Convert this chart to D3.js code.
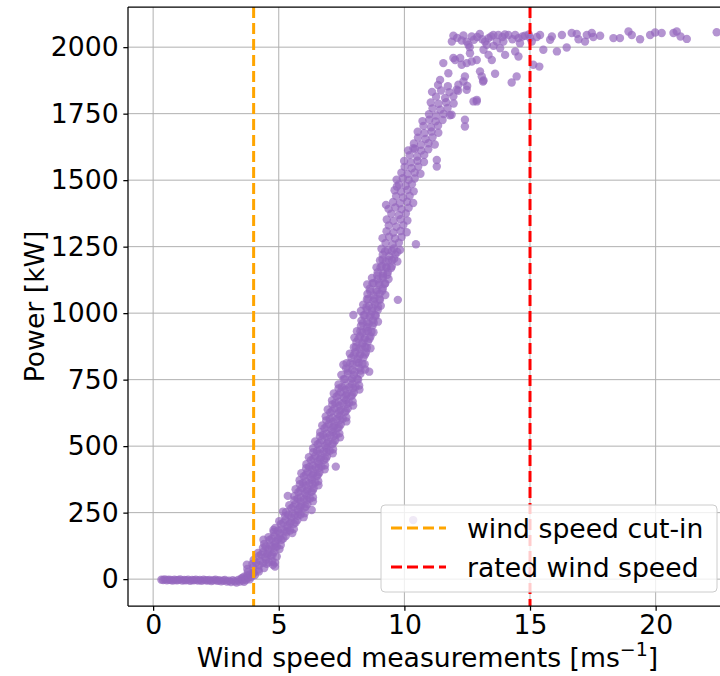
<!DOCTYPE html>
<html>
<head>
<meta charset="utf-8">
<script src="https://cdn.jsdelivr.net/npm/d3@7"></script>
<style>
  body { margin: 0; background: #fff; }
  text { font-family: "DejaVu Sans", sans-serif; }
</style>
</head>
<body>
<div id="chart"></div>
<script>
// wind speed [m/s], power [kW] pairs
const idlePoints = [
  [0.33,-2],[0.4,-3],[0.47,-1],[0.55,-4],[0.62,-2],[0.7,-3],[0.78,-5],[0.85,-2],[0.93,-4],[1.0,-3],
  [1.08,-1],[1.16,-5],[1.24,-3],[1.31,-4],[1.39,-2],[1.47,-6],[1.55,-3],[1.62,-4],[1.7,-2],[1.78,-5],
  [1.86,-3],[1.93,-6],[2.01,-2],[2.09,-4],[2.17,-5],[2.24,-3],[2.32,-7],[2.4,-4],[2.48,-2],[2.55,-6],
  [2.63,-4],[2.71,-8],[2.79,-5],[2.86,-3],[2.94,-9],[3.02,-6],[3.1,-11],[3.17,-4],[3.25,-8],[3.32,-13],
  [3.38,-3],[3.45,-9],[3.5,2],[3.56,-5],[3.62,-10],[3.7,-3],[3.84,-1],
  [3.55,4],[3.62,9],[3.68,2],[3.74,14],[3.8,6],[3.86,18],[3.92,10],[3.98,24],[4.05,15],[3.73,54]
];

const rampPoints = [
  [3.77,27],[4.0,22],[4.21,29],
  [3.75,38],[3.98,44],[4.19,36],[4.42,42],
  [3.95,57],[4.22,52],[4.52,58],[4.77,54],
  [4.0,72],[4.25,68],[4.49,73],[4.74,67],
  [4.21,87],[4.46,83],[4.69,88],
  [4.17,98],[4.39,103],[4.59,97],[4.81,102],
  [4.37,117],[4.59,112],[4.83,118],[5.03,113],
  [4.42,132],[4.64,127],[4.86,133],[5.08,128],
  [4.63,147],[4.88,142],[5.11,148],
  [4.59,158],[4.83,163],[5.04,157],[5.28,162],
  [4.8,177],[5.04,172],[5.31,178],[5.54,173],
  [4.86,192],[5.1,187],[5.35,193],[5.6,188],
  [5.08,207],[5.35,202],[5.6,208],
  [5.02,218],[5.27,223],[5.5,217],[5.74,222],
  [5.25,237],[5.49,232],[5.76,238],[5.99,233],
  [5.29,252],[5.54,247],[5.78,253],[6.03,248],
  [5.5,267],[5.77,262],[6.02,268],
  [5.42,278],[5.67,283],[5.9,277],[6.14,282],
  [5.62,297],[5.86,292],[6.13,298],[6.36,293],
  [5.62,312],[5.87,307],[6.11,313],[6.36,308],
  [5.78,327],[6.05,322],[6.3,328],
  [5.67,338],[5.92,343],[6.15,337],[6.39,342],
  [5.84,357],[6.08,352],[6.35,358],[6.58,353],
  [5.83,372],[6.08,367],[6.32,373],[6.57,368],
  [6.0,387],[6.27,382],[6.52,388],
  [5.9,398],[6.15,403],[6.38,397],[6.62,402],
  [6.09,417],[6.33,412],[6.6,418],[6.83,413],
  [6.1,432],[6.35,427],[6.59,433],[6.84,428],
  [6.28,447],[6.55,442],[6.8,448],
  [6.2,458],[6.45,463],[6.68,457],[6.92,462],
  [6.37,477],[6.63,472],[6.91,478],[7.15,473],
  [6.37,492],[6.64,487],[6.9,493],[7.16,488],
  [6.55,507],[6.85,502],[7.13,508],
  [6.45,518],[6.72,523],[6.97,517],[7.25,522],
  [6.64,537],[6.91,532],[7.2,538],[7.44,533],
  [6.65,552],[6.9,547],[7.15,553],[7.41,548],
  [6.82,567],[7.1,562],[7.35,568],
  [6.73,578],[6.99,583],[7.22,577],[7.47,582],
  [6.89,597],[7.16,592],[7.45,598],[7.69,593],
  [6.87,612],[7.14,607],[7.42,613],[7.69,608],
  [7.05,627],[7.35,622],[7.63,628],
  [6.95,638],[7.22,643],[7.47,637],[7.75,642],
  [7.13,657],[7.41,652],[7.71,658],[7.96,653],
  [7.12,672],[7.39,667],[7.67,673],[7.94,668],
  [7.3,687],[7.6,682],[7.88,688],
  [7.19,698],[7.46,703],[7.71,697],[7.99,702],
  [7.38,717],[7.66,712],[7.96,718],[8.21,713],
  [7.38,732],[7.65,727],[7.93,733],[8.2,728],
  [7.58,752],[7.87,747],[8.13,753],
  [7.49,768],[7.75,773],[7.99,767],[8.25,772],
  [7.68,792],[7.93,787],[8.21,793],[8.44,788],
  [7.7,812],[7.94,807],[8.18,813],[8.42,808],
  [7.89,832],[8.14,827],[8.37,833],
  [7.83,848],[8.05,853],[8.25,847],[8.47,852],
  [7.99,872],[8.21,867],[8.45,873],[8.65,868],
  [8.09,892],[8.33,887],[8.55,893],
  [8.01,908],[8.23,913],[8.43,907],[8.65,912],
  [8.11,932],[8.33,927],[8.55,933],[8.77,928],
  [8.27,952],[8.51,947],[8.73,953],
  [8.29,972],[8.51,967],[8.75,973],[8.95,968],
  [8.38,992],[8.62,987],[8.84,993],
  [8.27,1008],[8.5,1013],[8.71,1007],[8.94,1012],
  [8.36,1032],[8.59,1027],[8.83,1033],[9.06,1028],
  [8.51,1052],[8.77,1047],[9.01,1053],
  [8.53,1072],[8.77,1067],[9.02,1073],[9.24,1068],
  [8.62,1092],[8.89,1087],[9.14,1093],
  [8.52,1108],[8.77,1113],[9.0,1107],[9.24,1112],
  [8.71,1132],[8.93,1127],[9.15,1133],[9.37,1128],
  [8.94,1154],[9.15,1149],[9.34,1155],
  [8.89,1172],[9.1,1177],[9.29,1171],[9.5,1176],
  [9.03,1198],[9.26,1193],[9.51,1199],[9.72,1194],
  [9.14,1220],[9.4,1215],[9.64,1221],
  [9.09,1242],[9.34,1237],[9.58,1243],[9.83,1238],
  [9.25,1264],[9.53,1259],[9.78,1265],
  [9.13,1282],[9.39,1287],[9.63,1281],[9.89,1286],
  [9.29,1308],[9.56,1303],[9.85,1309],[10.09,1304],
  [9.38,1330],[9.68,1325],[9.96,1331],
  [9.3,1352],[9.57,1347],[9.85,1353],[10.12,1348],
  [9.48,1374],[9.78,1369],[10.06,1375],
  [9.37,1392],[9.64,1397],[9.89,1391],[10.17,1396],
  [9.55,1418],[9.82,1413],[10.11,1419],[10.35,1414],
  [9.67,1440],[9.95,1435],[10.21,1441],
  [9.61,1462],[9.86,1457],[10.12,1463],[10.37,1458],
  [9.78,1484],[10.05,1479],[10.3,1485],
  [9.69,1502],[9.94,1507],[10.17,1501],[10.41,1506],
  [9.88,1528],[10.13,1523],[10.41,1529],[10.64,1524],
  [10.01,1550],[10.29,1545],[10.55,1551],
  [9.99,1572],[10.26,1567],[10.52,1573],[10.78,1568],
  [10.21,1594],[10.51,1589],[10.79,1595],
  [10.15,1612],[10.42,1617],[10.67,1611],[10.95,1616],
  [10.38,1638],[10.66,1633],[10.96,1639],[11.21,1634],
  [10.54,1660],[10.84,1655],[11.12,1661],
  [10.53,1682],[10.8,1677],[11.08,1683],[11.35,1678],
  [10.76,1704],[11.06,1699],[11.34,1705],
  [10.72,1722],[10.99,1727],[11.24,1721],[11.52,1726],
  [10.98,1748],[11.26,1743],[11.56,1749],[11.81,1744],
  [11.12,1770],[11.43,1765],[11.72,1771],
  [11.05,1792],[11.36,1787],[11.66,1793],[11.96,1788],
  [11.26,1814],[11.62,1809],[11.95,1815],
  [11.1,1832],[11.46,1837],[11.79,1831],[12.14,1836],
  [11.34,1858],[11.73,1853],[12.15,1859],[12.5,1854]
];

// extra points where the band is densest
const rampFillPoints = [
  [4.1,62],[4.38,61],[4.61,63],[4.85,62],[4.92,85],
  [4.3,92],[4.54,93],[4.75,91],
  [4.48,122],[4.72,121],[4.92,123],
  [4.72,152],[4.97,151],[5.18,153],
  [4.96,182],[5.23,181],[5.45,183],
  [5.18,212],[5.45,211],[5.67,213],
  [5.38,242],[5.65,241],[5.87,243],
  [5.58,272],[5.85,271],[6.07,273],
  [5.75,302],[6.02,301],[6.24,303],
  [5.86,332],[6.13,331],[6.35,333],
  [5.96,362],[6.23,361],[6.45,363],
  [6.08,392],[6.35,391],[6.57,393],
  [6.21,422],[6.48,421],[6.7,423],
  [6.38,452],[6.65,451],[6.87,453],
  [6.52,482],[6.8,481],[7.03,483],
  [6.63,512],[6.93,511],[7.18,513],
  [6.76,542],[7.05,541],[7.29,543],
  [6.9,572],[7.18,571],[7.41,573],
  [7.02,602],[7.31,601],[7.55,603],
  [7.13,632],[7.43,631],[7.68,633],
  [7.25,662],[7.55,661],[7.8,663],
  [7.38,692],[7.68,691],[7.93,693],
  [7.51,722],[7.81,721],[8.06,723],
  [7.63,752],[7.92,754],[8.16,750],
  [7.75,782],[8.03,780],[8.26,784],
  [7.85,812],[8.11,814],[8.33,810],
  [7.98,842],[8.22,840],[8.43,844],
  [8.07,872],[8.31,874],[8.51,870],
  [8.17,902],[8.41,900],[8.61,904],
  [8.25,932],[8.49,934],[8.69,930],
  [8.34,962],[8.58,960],[8.78,964],
  [8.42,992],[8.66,994],[8.86,990],
  [8.49,1022],[8.74,1020],[8.95,1024],
  [8.56,1052],[8.81,1054],[9.03,1050],
  [8.64,1082],[8.9,1080],[9.12,1084],
  [8.73,1112],[9.0,1114],[9.22,1110],
  [8.92,1142],[9.14,1140],[9.32,1144],
  [9.05,1172],[9.28,1174],[9.47,1170],
  [9.13,1202],[9.38,1200],[9.59,1204],
  [9.23,1232],[9.5,1234],[9.72,1230]
];

const ratedPoints = [
  [11.89,2021],[11.95,2043],[12.28,2025],[12.48,2021],[12.55,2009],[12.68,2040],[12.77,2028],[13.0,2050],
  [13.21,2021],[13.28,2009],[13.35,2034],[13.54,2046],[13.68,2021],[13.74,2046],[13.94,2021],[14.14,2046],
  [14.41,2046],[14.54,2034],[14.6,2015],[14.8,2043],[15.07,2021],[15.27,2038],[15.4,2046],[15.53,1990],
  [15.8,2028],[15.87,2040],[16.07,1984],[16.27,2046],[16.46,1999],[16.66,2053],[16.86,2050],[16.93,2030],
  [17.19,2021],[17.26,2046],[17.46,2053],[17.52,2038],[17.79,2043],[18.32,2034],[18.58,2034],[18.92,2059],
  [19.05,2046],[19.38,2030],[19.78,2046],[19.98,2055],[20.24,2053],[20.71,2053],[20.84,2059],[20.99,2040],
  [21.24,2031],[22.43,2056],[15.13,1934],[15.37,1927],
  [12.61,1977],[12.88,1952],[13.15,1990],[13.35,1971],[13.48,1952],[13.81,1996],[14.01,1971],[14.41,1984],
  [14.54,1965],[13.01,1909],[13.08,1890],[13.15,1875],[13.61,1900],[14.27,1867],[14.47,1890],[12.41,1890],
  [12.88,1802],[12.75,1796],[11.88,1746],[11.55,1940],[11.95,1959],[12.22,1959],[12.48,1940],[12.68,1946],
  [11.42,1877],[11.75,1902],[12.02,1952],[12.28,1934],[12.35,1871],[12.48,1840],[12.08,1840],[13.13,1871],
  [12.1,2035],[12.35,2044],[12.9,2038],[13.1,2030],[13.45,2040],[13.9,2038],[14.3,2030],[14.0,2048],
  [12.6,2000],[13.55,2005],[14.7,2040],[14.95,2048],[15.0,2035]
];

const outlierPoints = [
  [5.36,313],[5.17,254],[6.31,260],[4.85,47],[4.39,148],[4.79,185],[7.27,423],[7.57,806],[8.6,780],
  [7.97,993],[9.74,1050],[10.46,1259],[10.35,222],[9.27,1407],[9.7,1476],[10.36,1620],
  [11.29,1576],[11.29,1551],[12.41,1727],[12.41,1702],[12.88,1796]
];

const cutInSpeed = 4;
const ratedSpeed = 15;
const xTicks = [0, 5, 10, 15, 20];
const yTicks = [0, 250, 500, 750, 1000, 1250, 1500, 1750, 2000];
const legendItems = [
  { label: "wind speed cut-in", color: "#ffa500" },
  { label: "rated wind speed", color: "#ff0000" }
];

const W = 720, H = 676;
const margin = { left: 128, top: 7, right: 727, bottom: 606 };
const fontSize = 26.67;

const svg = d3.select("#chart").append("svg")
  .attr("width", W).attr("height", H);

const x = d3.scaleLinear().domain([-1, 22.84]).range([margin.left, margin.right]);
const y = d3.scaleLinear().domain([-101, 2151]).range([margin.bottom, margin.top]);

svg.append("defs").append("clipPath").attr("id", "clip")
  .append("rect").attr("x", margin.left).attr("y", margin.top)
  .attr("width", margin.right - margin.left).attr("height", margin.bottom - margin.top);

// grid
const grid = svg.append("g").attr("stroke", "#b0b0b0").attr("stroke-width", 1);
grid.selectAll(".gx").data(xTicks).enter().append("line")
  .attr("x1", d => x(d)).attr("x2", d => x(d)).attr("y1", margin.top).attr("y2", margin.bottom);
grid.selectAll(".gy").data(yTicks).enter().append("line")
  .attr("x1", margin.left).attr("x2", margin.right).attr("y1", d => y(d)).attr("y2", d => y(d));

// scatter
const allPoints = idlePoints.concat(rampPoints, rampFillPoints, ratedPoints, outlierPoints);
svg.append("g").attr("clip-path", "url(#clip)")
  .selectAll("circle").data(allPoints).enter().append("circle")
  .attr("cx", d => x(d[0])).attr("cy", d => y(d[1]))
  .attr("r", 4.2)
  .attr("fill", "#9467bd")
  .attr("fill-opacity", 0.7);

// cut-in and rated speed lines
[[cutInSpeed, legendItems[0].color], [ratedSpeed, legendItems[1].color]].forEach(([v, c]) => {
  svg.append("line")
    .attr("x1", x(v)).attr("x2", x(v)).attr("y1", margin.top).attr("y2", margin.bottom)
    .attr("stroke", c).attr("stroke-width", 3).attr("stroke-dasharray", "11,5");
});

// axes
const xAxis = svg.append("g").attr("transform", `translate(0,${margin.bottom})`)
  .call(d3.axisBottom(x).tickValues(xTicks).tickSize(4.67).tickPadding(4.67).tickFormat(d3.format("d")));
const yAxis = svg.append("g").attr("transform", `translate(${margin.left},0)`)
  .call(d3.axisLeft(y).tickValues(yTicks).tickSize(4.67).tickPadding(4.67).tickFormat(d3.format("d")));
[xAxis, yAxis].forEach(a => {
  a.select(".domain").remove();
  a.selectAll(".tick line").attr("stroke", "#000").attr("stroke-width", 1.25);
  a.selectAll("text").attr("font-size", fontSize).attr("fill", "#000")
    .attr("font-family", "DejaVu Sans, sans-serif");
});

// spines
const spines = svg.append("g").attr("stroke", "#000").attr("stroke-width", 1.25);
spines.append("line").attr("x1", margin.left).attr("x2", margin.left).attr("y1", margin.top).attr("y2", margin.bottom);
spines.append("line").attr("x1", margin.left).attr("x2", margin.right).attr("y1", margin.bottom).attr("y2", margin.bottom);
spines.append("line").attr("x1", margin.left).attr("x2", margin.right).attr("y1", margin.top).attr("y2", margin.top);
spines.append("line").attr("x1", margin.right).attr("x2", margin.right).attr("y1", margin.top).attr("y2", margin.bottom);

// axis labels
const xLabel = svg.append("text")
  .attr("x", (margin.left + margin.right) / 2).attr("y", 667)
  .attr("text-anchor", "middle").attr("font-size", fontSize).attr("fill", "#000");
xLabel.append("tspan").text("Wind speed measurements [ms");
xLabel.append("tspan").attr("font-size", 19).attr("dy", -11).text("\u22121");
xLabel.append("tspan").attr("dy", 11).text("]");

svg.append("text")
  .attr("transform", `translate(44,${(margin.top + margin.bottom) / 2}) rotate(-90)`)
  .attr("text-anchor", "middle").attr("font-size", fontSize).attr("fill", "#000")
  .text("Power [kW]");

// legend
const lg = svg.append("g");
lg.append("rect")
  .attr("x", 381).attr("y", 505).attr("width", 336).attr("height", 87).attr("rx", 4)
  .attr("fill", "#fff").attr("fill-opacity", 0.8)
  .attr("stroke", "#cccccc").attr("stroke-width", 1);
legendItems.forEach((d, i) => {
  const cy = 528 + i * 39;
  lg.append("line")
    .attr("x1", 391).attr("x2", 446).attr("y1", cy).attr("y2", cy)
    .attr("stroke", d.color).attr("stroke-width", 3).attr("stroke-dasharray", "11,5");
  lg.append("text")
    .attr("x", 467).attr("y", cy + 9.5)
    .attr("font-size", fontSize).attr("fill", "#000")
    .text(d.label);
});
</script>
</body>
</html>
